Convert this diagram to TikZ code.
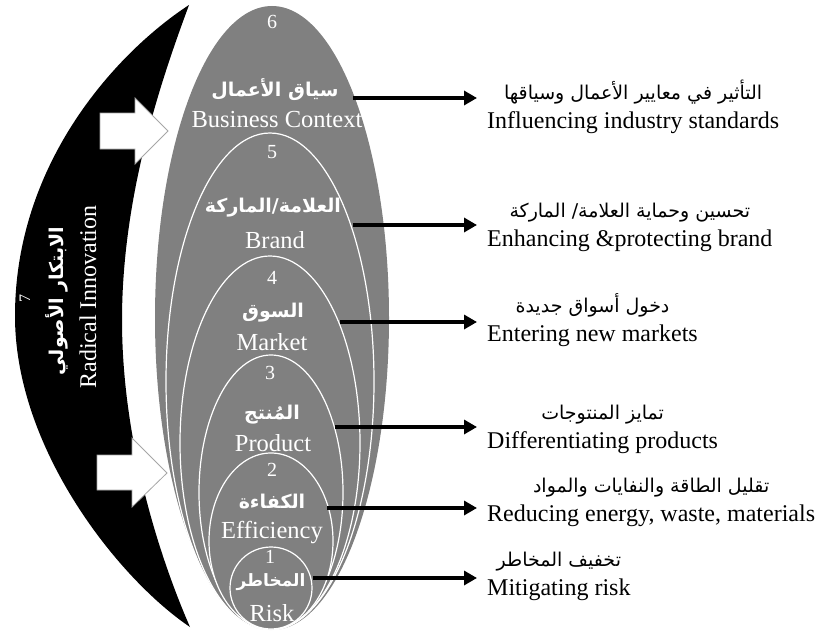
\documentclass[tikz,border=0pt]{standalone}
\usepackage{fontspec}
\setmainfont{Liberation Serif}
\newfontfamily\arabicfont[Script=Arabic]{DejaVu Sans}
\TeXXeTstate=1
\usetikzlibrary{arrows.meta}
\definecolor{eggfill}{gray}{0.5}
\begin{document}
\begin{tikzpicture}[x=1pt,y=-1pt,
  ring/.style={draw=white, line width=1.2pt, fill=eggfill},
  numtxt/.style={text=white, font=\fontsize{20}{22}\selectfont, inner sep=0},
  artxt/.style={text=white, font=\arabicfont\bfseries\fontsize{19}{22}\selectfont, inner sep=0},
  entxt/.style={text=white, font=\fontsize{24.5}{28}\selectfont, inner sep=0},
  rtxt/.style={align=center, font=\fontsize{24}{29}\selectfont, inner sep=0, anchor=west},
  outarrow/.style={line width=4pt, -{Triangle[length=13pt,width=14pt]}, shorten >=10pt},
  blockarrow/.style={fill=white, draw=gray!70, line width=0.8pt}]
\useasboundingbox (0,0) rectangle (817,634);
% crescent
\fill[black] (189,5) .. controls (120,50) and (15,160) .. (15,316)
  .. controls (15,450) and (120,580) .. (190,627)
  .. controls (165,570) and (122,450) .. (122,320)
  .. controls (122,190) and (165,70) .. (189,5) -- cycle;
% block arrows
\draw[blockarrow] (100,113) -- (135,113) -- (135,98) -- (168,131) -- (135,164) -- (135,149) -- (100,149) -- cycle;
\draw[blockarrow] (97,455) -- (132,455) -- (132,438) -- (167,473) -- (132,507) -- (132,490) -- (97,490) -- cycle;
% nested eggs
\fill[eggfill] (272,318) ellipse[x radius=117, y radius=312];
\draw[ring] (270,381.5) ellipse[x radius=104, y radius=248.5];
\draw[ring] (270,443) ellipse[x radius=90, y radius=187];
\draw[ring] (271,492.5) ellipse[x radius=72, y radius=137.5];
\draw[ring] (271,541) ellipse[x radius=62, y radius=88];
\draw[ring] (271,588) circle[radius=41];
% labels inside
\node[numtxt] (n6) at (272,22) {6};
\node[artxt] (a6) at (275,90) {\beginR سياق الأعمال\endR};
\node[entxt] (e6) at (277,120) {Business Context};
\node[numtxt] (n5) at (272,152) {5};
\node[artxt] (a5) at (273,208) {\beginR العلامة/الماركة\endR};
\node[entxt] (e5) at (275,240) {Brand};
\node[numtxt] (n4) at (272,278) {4};
\node[artxt] (a4) at (273,313) {\beginR السوق\endR};
\node[entxt] (e4) at (272,342) {Market};
\node[numtxt] (n3) at (270,373) {3};
\node[artxt] (a3) at (272,415) {\beginR المُنتج\endR};
\node[entxt] (e3) at (273,443) {Product};
\node[numtxt] (n2) at (272,470) {2};
\node[artxt] (a2) at (272,502) {\beginR الكفاءة\endR};
\node[entxt] (e2) at (272,533) {Efficiency};
\node[numtxt] (n1) at (270,557) {1};
\node[artxt, font=\arabicfont\bfseries\fontsize{17}{20}\selectfont] (a1) at (271,582) {\beginR المخاطر\endR};
\node[entxt] (e1) at (272,613) {Risk};
% crescent labels
\node[numtxt, rotate=90, font=\fontsize{16}{18}\selectfont] (n7) at (25,298) {7};
\node[artxt, rotate=90] (a7) at (57,301) {\beginR الابتكار الأصولي\endR};
\node[entxt, rotate=90, font=\fontsize{24}{28}\selectfont] (e7) at (88,297) {Radical Innovation};
% right texts
\node[rtxt] (t6) at (487,107) {{\arabicfont\fontsize{19}{19}\selectfont\beginR التأثير في معايير الأعمال وسياقها\endR}\\Influencing industry standards};
\node[rtxt] (t5) at (487,227) {{\arabicfont\fontsize{19}{19}\selectfont\beginR تحسين وحماية العلامة/ الماركة\endR}\\Enhancing \&protecting brand};
\node[rtxt] (t4) at (487,320) {{\arabicfont\fontsize{19}{19}\selectfont\beginR دخول أسواق جديدة\endR}\\Entering new markets};
\node[rtxt] (t3) at (487,429) {{\arabicfont\fontsize{19}{19}\selectfont\beginR تمايز  المنتوجات\endR}\\Differentiating products};
\node[rtxt] (t2) at (487,502.5) {{\arabicfont\fontsize{19}{19}\selectfont\beginR تقليل الطاقة والنفايات والمواد\endR}\\Reducing energy, waste, materials};
\node[rtxt] (t1) at (487,576.5) {{\arabicfont\fontsize{19}{19}\selectfont\beginR تخفيف المخاطر\endR}\\Mitigating risk};
% arrow starts
\coordinate (s6) at (353,98);
\coordinate (s5) at (353,225);
\coordinate (s4) at (340,322);
\coordinate (s3) at (335,427);
\coordinate (s2) at (327,508);
\coordinate (s1) at (313,578);
\draw[outarrow] (s6) -- (s6 -| t6.west);
\draw[outarrow] (s5) -- (s5 -| t5.west);
\draw[outarrow] (s4) -- (s4 -| t4.west);
\draw[outarrow] (s3) -- (s3 -| t3.west);
\draw[outarrow] (s2) -- (s2 -| t2.west);
\draw[outarrow] (s1) -- (s1 -| t1.west);
\end{tikzpicture}
\end{document}
